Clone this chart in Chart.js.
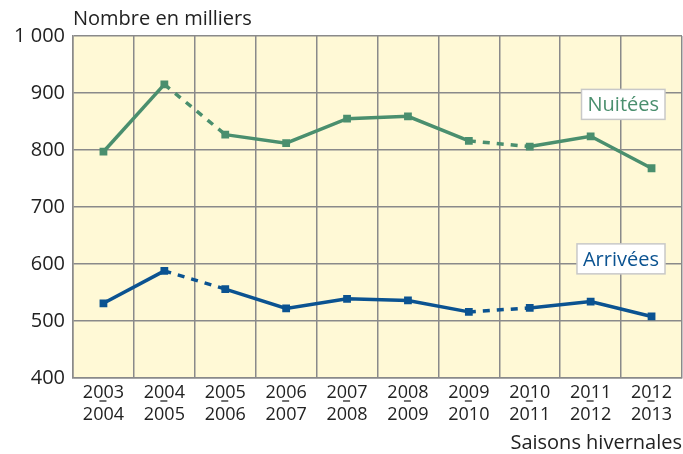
<!DOCTYPE html>
<html lang="fr">
<head>
    <meta charset="UTF-8">
    <title>Nuitées et arrivées - saisons hivernales</title>
    <script src="https://cdn.jsdelivr.net/npm/chart.js"></script>
    <style>
        body {
            margin: 0;
            background-color: #fff;
        }

        #chart-container {
            width: 683px;
            height: 454px;
            position: relative;
        }
    </style>
</head>
<body>
<div id="chart-container">
    <canvas id="saisonsChart"></canvas>
</div>

<script>
    // Saisons (début / fin)
    var saisonsDebut = ["2003", "2004", "2005", "2006", "2007", "2008", "2009", "2010", "2011", "2012"];
    var saisonsFin = ["2004", "2005", "2006", "2007", "2008", "2009", "2010", "2011", "2012", "2013"];

    // Nombre en milliers
    var nuitees = [797, 915, 827, 812, 855, 859, 816, 806, 824, 768];
    var arrivees = [531, 588, 556, 522, 539, 536, 516, 523, 534, 508];

    // segments en pointillés (index du point de départ)
    var segmentsPointilles = [1, 6];

    var vert = "#4a8f6e";
    var bleu = "#0b5391";
    var police = "'Open Sans', sans-serif";

    var labels = saisonsDebut.map(function (d, i) { return [d, saisonsFin[i]]; });

    function pointilles(ctx) {
        return segmentsPointilles.indexOf(ctx.p0DataIndex) >= 0 ? [7, 7] : undefined;
    }

    // fond du graphique, titres et étiquettes des séries
    var decorPlugin = {
        id: "decor",
        beforeDraw: function (chart) {
            var a = chart.chartArea;
            var c = chart.ctx;
            c.save();
            c.fillStyle = "#fff9d6";
            c.fillRect(a.left, a.top, a.right - a.left, a.bottom - a.top);
            c.restore();
        },
        afterDraw: function (chart) {
            var c = chart.ctx;
            var a = chart.chartArea;
            var x = chart.scales.x;
            var y = chart.scales.y;
            c.save();
            c.font = "20px " + police;
            c.fillStyle = "#222";
            c.textBaseline = "middle";
            c.textAlign = "left";
            c.fillText("Nombre en milliers", a.left, 19);
            c.textAlign = "right";
            c.fillText("Saisons hivernales", a.right, 443);

            // petit tiret entre les deux années
            c.strokeStyle = "#222";
            c.lineWidth = 1.3;
            labels.forEach(function (l, i) {
                var px = x.getPixelForValue(i);
                c.beginPath();
                c.moveTo(px - 4, 401);
                c.lineTo(px + 3, 401);
                c.stroke();
            });

            // étiquettes des séries
            function etiquette(texte, couleur, cx, cy) {
                c.font = "20px " + police;
                var w = c.measureText(texte).width + 12;
                var h = 30;
                c.fillStyle = "#fff";
                c.fillRect(cx - w, cy - h / 2, w, h);
                c.strokeStyle = "#c8c8c8";
                c.lineWidth = 1.5;
                c.strokeRect(cx - w, cy - h / 2, w, h);
                c.fillStyle = couleur;
                c.textAlign = "center";
                c.fillText(texte, cx - w / 2, cy + 1);
            }
            etiquette("Nuitées", vert, 665, y.getPixelForValue(880));
            etiquette("Arrivées", bleu, 665, y.getPixelForValue(609));
            c.restore();
        }
    };

    var ctx = document.getElementById("saisonsChart").getContext("2d");
    var myChart = new Chart(ctx, {
        type: "line",
        data: {
            labels: labels,
            datasets: [
                {
                    label: "Nuitées",
                    data: nuitees,
                    borderColor: vert,
                    backgroundColor: vert,
                    borderWidth: 3.5,
                    pointStyle: "rect",
                    pointRadius: 5.5,
                    pointBorderWidth: 0,
                    segment: { borderDash: pointilles },
                },
                {
                    label: "Arrivées",
                    data: arrivees,
                    borderColor: bleu,
                    backgroundColor: bleu,
                    borderWidth: 3.5,
                    pointStyle: "rect",
                    pointRadius: 5.5,
                    pointBorderWidth: 0,
                    segment: { borderDash: pointilles },
                },
            ],
        },
        options: {
            responsive: true,
            maintainAspectRatio: false,
            animation: false,
            layout: {
                autoPadding: false,
                padding: { top: 36, right: 1, left: 0, bottom: 0 },
            },
            plugins: {
                legend: { display: false },
                tooltip: { enabled: false },
            },
            scales: {
                x: {
                    offset: true,
                    grid: {
                        offset: true,
                        color: "#8a8a8a",
                        lineWidth: 1.5,
                        drawTicks: false,
                    },
                    border: { color: "#8a8a8a", width: 1.5 },
                    ticks: {
                        color: "#222",
                        font: { family: police, size: 18 },
                        maxRotation: 0,
                        padding: 4,
                        autoSkip: false,
                    },
                    afterFit: function (scale) { scale.height = 76; },
                },
                y: {
                    min: 400,
                    max: 1000,
                    grid: {
                        color: "#8a8a8a",
                        lineWidth: 1.5,
                        drawTicks: false,
                    },
                    border: { color: "#8a8a8a", width: 1.5 },
                    ticks: {
                        stepSize: 100,
                        color: "#222",
                        font: { family: police, size: 20 },
                        padding: 8,
                        callback: function (v) {
                            return v === 1000 ? "1 000" : String(v);
                        },
                    },
                    afterFit: function (scale) { scale.width = 73; },
                },
            },
        },
        plugins: [decorPlugin],
    });
</script>
</body>
</html>
